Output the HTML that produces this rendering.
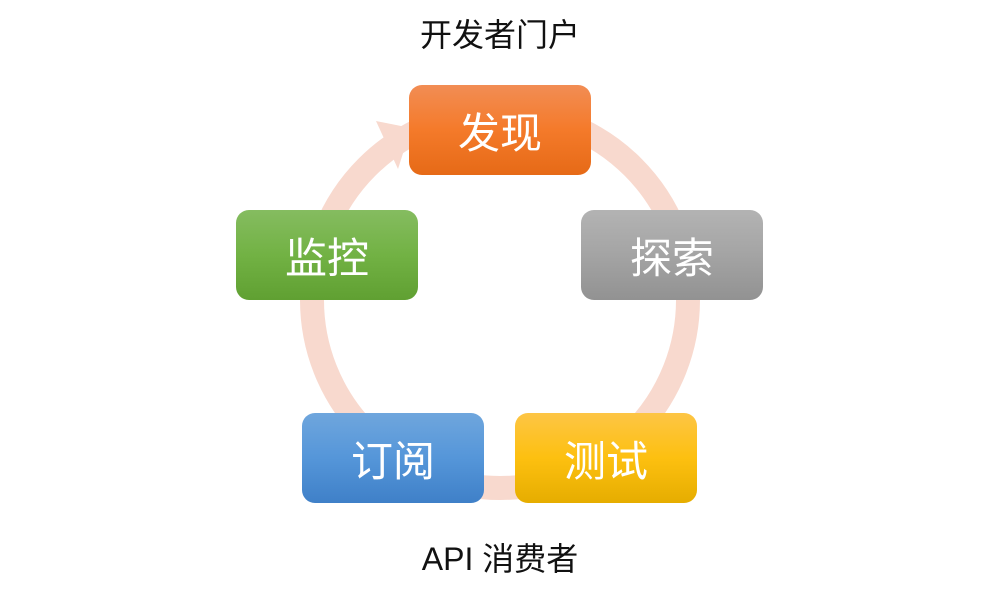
<!DOCTYPE html>
<html><head><meta charset="utf-8"><style>
body{margin:0;width:1000px;height:591px;background:#fff;position:relative;overflow:hidden;font-family:"Liberation Sans","Noto Sans CJK SC",sans-serif}
.t{position:absolute;left:0;width:1000px;text-align:center;color:#111;font-size:32px}
.b{position:absolute;width:182px;height:90px;border-radius:13px;color:#fff;font-size:42px;display:flex;align-items:center;justify-content:center}
</style></head><body>
<svg width="1000" height="591" style="position:absolute;left:0;top:0">
<circle cx="500" cy="300" r="188" fill="none" stroke="#f8d9ce" stroke-width="24"/>
<polygon points="376,121 398,169 411,128" fill="#f8d9ce"/>
</svg>
<div class="t" style="top:10px">开发者门户</div>
<div class="t" style="top:534px">API 消费者</div>
<div class="b" style="left:409px;top:85px;background:linear-gradient(#f28d54,#f47a2a 50%,#e66a17)">发现</div>
<div class="b" style="left:581px;top:210px;background:linear-gradient(#b3b3b3,#a4a4a4 50%,#929292)">探索</div>
<div class="b" style="left:236px;top:210px;background:linear-gradient(#85bc60,#72b244 50%,#60a032)">监控</div>
<div class="b" style="left:302px;top:413px;background:linear-gradient(#6fa6dd,#5596d9 50%,#3f80c8)">订阅</div>
<div class="b" style="left:515px;top:413px;background:linear-gradient(#fdc545,#fdc010 50%,#e6ad00)">测试</div>
</body></html>
